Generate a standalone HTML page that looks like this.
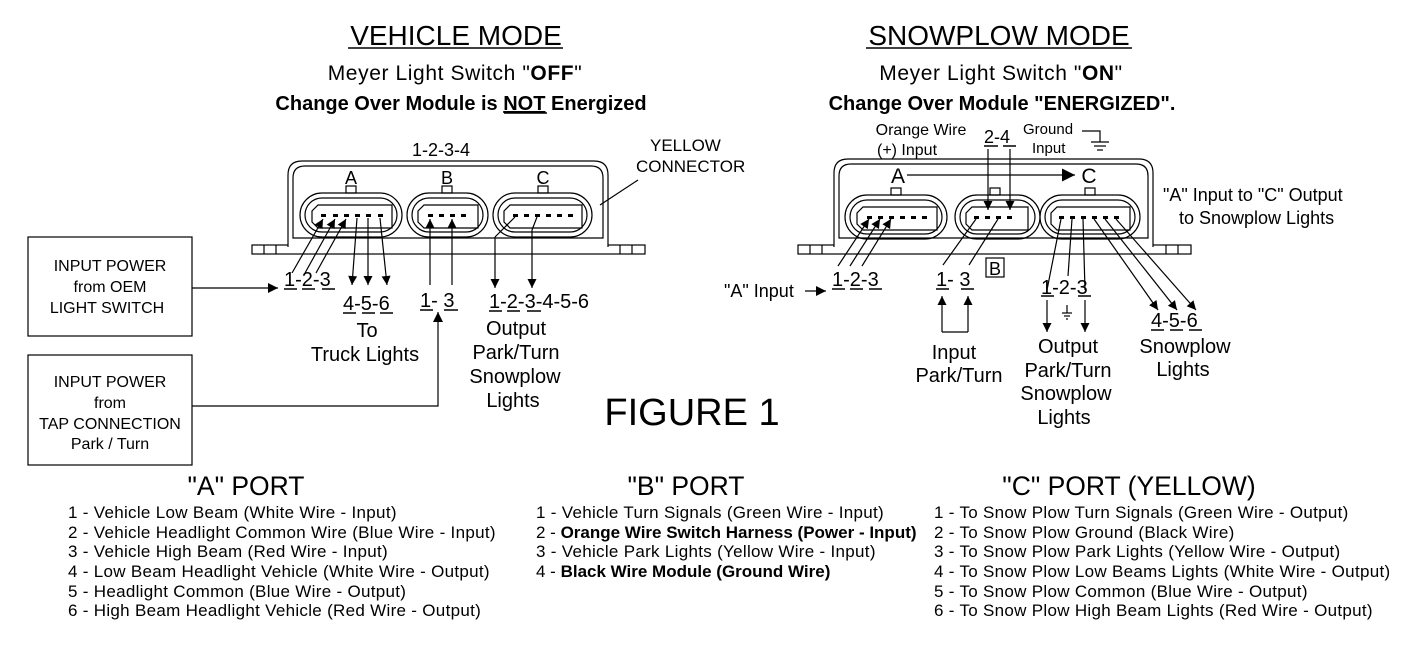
<!DOCTYPE html>
<html><head><meta charset="utf-8"><style>
html,body{margin:0;padding:0;background:#fff}
svg{display:block}
text{font-family:"Liberation Sans",Arial,sans-serif;fill:#000}
</style></head><body>
<svg width="1423" height="645" viewBox="0 0 1423 645" xmlns="http://www.w3.org/2000/svg">
<defs>
<marker id="ar" viewBox="0 0 10 10" refX="10" refY="5" markerWidth="15" markerHeight="9" orient="auto" markerUnits="userSpaceOnUse"><path d="M0,0 L10,5 L0,10 z" fill="#000"/></marker>
<marker id="arl" viewBox="0 0 10 10" refX="10" refY="5" markerWidth="18" markerHeight="10" orient="auto" markerUnits="userSpaceOnUse"><path d="M0,0 L10,5 L0,10 z" fill="#000"/></marker>
<marker id="ab" viewBox="0 0 10 10" refX="10" refY="5" markerWidth="24" markerHeight="13" orient="auto" markerUnits="userSpaceOnUse"><path d="M0,0 L10,5 L0,10 z" fill="#000"/></marker>
</defs>
<g fill="none" stroke="#000" stroke-width="1.2">
<rect x="252" y="245" width="393" height="9"/>
<line x1="264" y1="245" x2="264" y2="254"/><line x1="276" y1="245" x2="276" y2="254"/>
<line x1="620" y1="245" x2="620" y2="254"/><line x1="632" y1="245" x2="632" y2="254"/>
<path d="M288,247 V175 Q288,161 302,161 H594 Q608,161 608,175 V247" fill="#fff"/>
<path d="M293,238 V178 Q293,166 305,166 H591 Q603,166 603,178 V238 Z"/>
<rect x="300" y="193" width="102" height="44" rx="22"/><rect x="305" y="198" width="92" height="34" rx="17"/>
<path d="M318,205 H392 V228 H318 L312,222 V211 Z"/>
<rect x="346" y="186" width="10" height="7"/>
<rect x="407" y="193" width="81" height="44" rx="22"/><rect x="412" y="198" width="71" height="34" rx="17"/>
<path d="M424,205 H478 V228 H424 L418,222 V211 Z"/><rect x="442" y="186" width="10" height="7"/>
<rect x="493" y="193" width="99" height="44" rx="22"/><rect x="498" y="198" width="89" height="34" rx="17"/>
<path d="M510,205 H582 V228 H510 L504,222 V211 Z"/><rect x="538" y="186" width="10" height="7"/>
<rect x="798" y="245" width="393" height="9"/>
<line x1="810" y1="245" x2="810" y2="254"/><line x1="822" y1="245" x2="822" y2="254"/>
<line x1="1166" y1="245" x2="1166" y2="254"/><line x1="1178" y1="245" x2="1178" y2="254"/>
<path d="M834,247 V173 Q834,159 848,159 H1139 Q1153,159 1153,173 V247" fill="#fff"/>
<path d="M839,238 V176 Q839,164 851,164 H1136 Q1148,164 1148,176 V238 Z"/>
<rect x="845" y="195" width="102" height="44" rx="22"/><rect x="850" y="200" width="92" height="34" rx="17"/>
<path d="M863,207 H937 V230 H863 L857,224 V213 Z"/><rect x="891" y="188" width="10" height="7"/>
<rect x="955" y="195" width="85" height="44" rx="22"/><rect x="960" y="200" width="75" height="34" rx="17"/>
<path d="M972,207 H1028 V230 H972 L966,224 V213 Z"/><rect x="990" y="188" width="10" height="7"/>
<rect x="1040" y="195" width="100" height="44" rx="22"/><rect x="1045" y="200" width="90" height="34" rx="17"/>
<path d="M1057,207 H1130 V230 H1057 L1051,224 V213 Z"/><rect x="1085" y="188" width="10" height="7"/>
</g>
<g fill="#000">
<rect x="321" y="214" width="5" height="3"/><rect x="333" y="214" width="5" height="3"/><rect x="344" y="214" width="5" height="3"/><rect x="355" y="214" width="5" height="3"/><rect x="366" y="214" width="5" height="3"/><rect x="378" y="214" width="5" height="3"/>
<rect x="428" y="214" width="5" height="3"/><rect x="439" y="214" width="5" height="3"/><rect x="450" y="214" width="5" height="3"/><rect x="461" y="214" width="5" height="3"/>
<rect x="513" y="214" width="5" height="3"/><rect x="524" y="214" width="5" height="3"/><rect x="535" y="214" width="5" height="3"/><rect x="546" y="214" width="5" height="3"/><rect x="557" y="214" width="5" height="3"/><rect x="568" y="214" width="5" height="3"/>
<rect x="867" y="216" width="5" height="3"/><rect x="878" y="216" width="5" height="3"/><rect x="889" y="216" width="5" height="3"/><rect x="900" y="216" width="5" height="3"/><rect x="911" y="216" width="5" height="3"/><rect x="922" y="216" width="5" height="3"/>
<rect x="974" y="216" width="5" height="3"/><rect x="985" y="216" width="5" height="3"/><rect x="996" y="216" width="5" height="3"/><rect x="1007" y="216" width="5" height="3"/>
<rect x="1059" y="216" width="5" height="3"/><rect x="1070" y="216" width="5" height="3"/><rect x="1081" y="216" width="5" height="3"/><rect x="1092" y="216" width="5" height="3"/><rect x="1103" y="216" width="5" height="3"/><rect x="1114" y="216" width="5" height="3"/>
</g>
<g fill="none" stroke="#000" stroke-width="1.2">
<line x1="292" y1="273" x2="323" y2="219" marker-end="url(#ar)"/>
<line x1="305" y1="273" x2="335" y2="219" marker-end="url(#ar)"/>
<line x1="316" y1="273" x2="346" y2="219" marker-end="url(#ar)"/>
<line x1="357" y1="218" x2="352" y2="285" marker-end="url(#ar)"/>
<line x1="368" y1="218" x2="368" y2="285" marker-end="url(#ar)"/>
<line x1="380" y1="218" x2="387" y2="285" marker-end="url(#ar)"/>
<line x1="430" y1="285" x2="430" y2="219" marker-end="url(#ar)"/>
<line x1="452" y1="285" x2="452" y2="219" marker-end="url(#ar)"/>
<line x1="515" y1="217" x2="495" y2="237"/><line x1="495" y1="237" x2="495" y2="288" marker-end="url(#ar)"/>
<line x1="537" y1="217" x2="532" y2="230"/><line x1="532" y1="230" x2="532" y2="288" marker-end="url(#ar)"/>
<line x1="600" y1="205" x2="638" y2="180"/>
<rect x="28" y="237" width="164" height="99"/>
<rect x="28" y="355" width="164" height="110"/>
<line x1="192" y1="288" x2="278" y2="288" marker-end="url(#arl)"/>
<path d="M192,406 H438 V312" marker-end="url(#arl)"/>
<line x1="805" y1="291" x2="826" y2="291" marker-end="url(#arl)"/>
<line x1="838" y1="266" x2="869" y2="219" marker-end="url(#ar)"/>
<line x1="850" y1="266" x2="880" y2="219" marker-end="url(#ar)"/>
<line x1="862" y1="266" x2="891" y2="219" marker-end="url(#ar)"/>
<line x1="907" y1="175" x2="1075" y2="175" marker-end="url(#ab)"/>
<line x1="988" y1="149" x2="988" y2="210" marker-end="url(#ar)"/>
<line x1="1010" y1="149" x2="1010" y2="210" marker-end="url(#ar)"/>
<path d="M1082,131 H1100 V142"/><line x1="1091" y1="142" x2="1109" y2="142"/><line x1="1094" y1="146" x2="1106" y2="146"/><line x1="1097" y1="150" x2="1103" y2="150"/>
<line x1="976" y1="219" x2="943" y2="265"/>
<line x1="998" y1="219" x2="969" y2="265"/>
<line x1="942" y1="332" x2="942" y2="296" marker-end="url(#ar)"/>
<line x1="968" y1="332" x2="968" y2="296" marker-end="url(#ar)"/>
<line x1="942" y1="332" x2="968" y2="332"/>
<line x1="1061" y1="219" x2="1047" y2="290"/><line x1="1047" y1="300" x2="1047" y2="332" marker-end="url(#ar)"/>
<line x1="1072" y1="219" x2="1068" y2="276"/>
<line x1="1083" y1="219" x2="1085" y2="290"/><line x1="1085" y1="300" x2="1085" y2="332" marker-end="url(#ar)"/>
<line x1="1067" y1="305" x2="1067" y2="313"/><line x1="1062" y1="313" x2="1072" y2="313"/><line x1="1064" y1="316" x2="1070" y2="316"/><line x1="1066" y1="319" x2="1068" y2="319"/>
<line x1="1094" y1="219" x2="1158" y2="310" marker-end="url(#ar)"/>
<line x1="1105" y1="219" x2="1177" y2="310" marker-end="url(#ar)"/>
<line x1="1116" y1="219" x2="1196" y2="310" marker-end="url(#ar)"/>
<rect x="986" y="258" width="18" height="19"/>
<g stroke-width="1.5">
<line x1="348" y1="48" x2="563" y2="48"/><line x1="866" y1="48" x2="1132" y2="48"/>
<line x1="284" y1="289" x2="297" y2="289"/><line x1="302" y1="289" x2="315" y2="289"/><line x1="322" y1="289" x2="335" y2="289"/>
<line x1="343" y1="313" x2="356" y2="313"/><line x1="362" y1="313" x2="375" y2="313"/><line x1="380" y1="313" x2="393" y2="313"/>
<line x1="420" y1="310" x2="433" y2="310"/><line x1="444" y1="310" x2="458" y2="310"/>
<line x1="489" y1="311" x2="502" y2="311"/><line x1="507" y1="311" x2="520" y2="311"/><line x1="527" y1="311" x2="541" y2="311"/>
<line x1="832" y1="289" x2="845" y2="289"/><line x1="850" y1="289" x2="863" y2="289"/><line x1="869" y1="289" x2="882" y2="289"/>
<line x1="936" y1="289" x2="949" y2="289"/><line x1="961" y1="289" x2="974" y2="289"/>
<line x1="984" y1="146" x2="998" y2="146"/><line x1="1003" y1="146" x2="1016" y2="146"/>
<line x1="1041" y1="296" x2="1054" y2="296"/><line x1="1078" y1="296" x2="1091" y2="296"/>
<line x1="1151" y1="330" x2="1164" y2="330"/><line x1="1170" y1="330" x2="1183" y2="330"/><line x1="1189" y1="330" x2="1202" y2="330"/>
</g>
</g>
<text x="456" y="45" font-size="28" text-anchor="middle">VEHICLE MODE</text>
<text x="999" y="45" font-size="28" text-anchor="middle">SNOWPLOW MODE</text>
<text x="455" y="80" font-size="21" letter-spacing="0.6" text-anchor="middle">Meyer Light Switch "<tspan font-weight="bold">OFF</tspan>"</text>
<text x="461" y="110" font-size="20" font-weight="bold" text-anchor="middle">Change Over Module is <tspan text-decoration="underline">NOT</tspan> Energized</text>
<line x1="504" y1="113" x2="547" y2="113" stroke="#000" stroke-width="1.5"/>
<text x="1001" y="80" font-size="21" letter-spacing="0.6" text-anchor="middle">Meyer Light Switch "<tspan font-weight="bold">ON</tspan>"</text>
<text x="1002" y="110" font-size="20" font-weight="bold" text-anchor="middle">Change Over Module "ENERGIZED".</text>
<text x="412" y="156" font-size="18">1-2-3-4</text>
<text x="650" y="151" font-size="17">YELLOW</text>
<text x="636" y="172" font-size="17">CONNECTOR</text>
<text x="351" y="184" font-size="18" text-anchor="middle">A</text>
<text x="447" y="184" font-size="18" text-anchor="middle">B</text>
<text x="543" y="184" font-size="18" text-anchor="middle">C</text>
<text x="110" y="271" font-size="16" text-anchor="middle">INPUT POWER</text>
<text x="110" y="292" font-size="16" text-anchor="middle">from OEM</text>
<text x="107" y="313" font-size="16" text-anchor="middle">LIGHT SWITCH</text>
<text x="110" y="387" font-size="16" text-anchor="middle">INPUT POWER</text>
<text x="110" y="408" font-size="16" text-anchor="middle">from</text>
<text x="110" y="429" font-size="16" text-anchor="middle">TAP CONNECTION</text>
<text x="110" y="449" font-size="16" text-anchor="middle">Park / Turn</text>
<text x="284" y="286" font-size="20">1-2-3</text>
<text x="343" y="310" font-size="20">4-5-6</text>
<text x="367" y="337" font-size="20" text-anchor="middle">To</text>
<text x="365" y="361" font-size="20" text-anchor="middle">Truck Lights</text>
<text x="420" y="307" font-size="20">1- 3</text>
<text x="489" y="308" font-size="20">1-2-3-4-5-6</text>
<text x="516" y="335" font-size="20" text-anchor="middle">Output</text>
<text x="516" y="359" font-size="20" text-anchor="middle">Park/Turn</text>
<text x="515" y="383" font-size="20" text-anchor="middle">Snowplow</text>
<text x="513" y="407" font-size="20" text-anchor="middle">Lights</text>
<text x="692" y="425" font-size="38" text-anchor="middle">FIGURE 1</text>
<text x="921" y="135" font-size="16" text-anchor="middle">Orange Wire</text>
<text x="907" y="155" font-size="16" text-anchor="middle">(+) Input</text>
<text x="984" y="143" font-size="18">2-4</text>
<text x="1023" y="134" font-size="15">Ground</text>
<text x="1032" y="153" font-size="15">Input</text>
<text x="898" y="183" font-size="21" text-anchor="middle">A</text>
<text x="1089" y="183" font-size="21" text-anchor="middle">C</text>
<text x="1163" y="201" font-size="18">"A" Input to "C" Output</text>
<text x="1179" y="224" font-size="18">to Snowplow Lights</text>
<text x="724" y="297" font-size="18">"A" Input</text>
<text x="832" y="286" font-size="20">1-2-3</text>
<text x="936" y="286" font-size="20">1- 3</text>
<text x="989" y="275" font-size="18">B</text>
<text x="1041" y="294" font-size="20">1-2-3</text>
<text x="954" y="359" font-size="20" text-anchor="middle">Input</text>
<text x="959" y="382" font-size="20" text-anchor="middle">Park/Turn</text>
<text x="1068" y="353" font-size="20" text-anchor="middle">Output</text>
<text x="1068" y="377" font-size="20" text-anchor="middle">Park/Turn</text>
<text x="1066" y="400" font-size="20" text-anchor="middle">Snowplow</text>
<text x="1064" y="424" font-size="20" text-anchor="middle">Lights</text>
<text x="1151" y="327" font-size="20">4-5-6</text>
<text x="1185" y="353" font-size="20" text-anchor="middle">Snowplow</text>
<text x="1183" y="376" font-size="20" text-anchor="middle">Lights</text>
<text x="246" y="495" font-size="26.5" text-anchor="middle">"A" PORT</text>
<text x="686" y="495" font-size="26.5" text-anchor="middle">"B" PORT</text>
<text x="1129" y="495" font-size="26.5" text-anchor="middle">"C" PORT (YELLOW)</text>
<g font-size="17" letter-spacing="0.3">
<text x="68" y="518">1 - Vehicle Low Beam (White Wire - Input)</text>
<text x="68" y="538">2 - Vehicle Headlight Common Wire (Blue Wire - Input)</text>
<text x="68" y="557">3 - Vehicle High Beam (Red Wire - Input)</text>
<text x="68" y="577">4 - Low Beam Headlight Vehicle (White Wire - Output)</text>
<text x="68" y="597">5 - Headlight Common (Blue Wire - Output)</text>
<text x="68" y="616">6 - High Beam Headlight Vehicle (Red Wire - Output)</text>
<text x="536" y="518">1 - Vehicle Turn Signals (Green Wire - Input)</text>
<text x="536" y="538" letter-spacing="0">2 - <tspan font-weight="bold">Orange Wire Switch Harness (Power - Input)</tspan></text>
<text x="536" y="557">3 - Vehicle Park Lights (Yellow Wire - Input)</text>
<text x="536" y="577" letter-spacing="0">4 - <tspan font-weight="bold">Black Wire Module (Ground Wire)</tspan></text>
<text x="934" y="518">1 - To Snow Plow Turn Signals (Green Wire - Output)</text>
<text x="934" y="538">2 - To Snow Plow Ground (Black Wire)</text>
<text x="934" y="557">3 - To Snow Plow Park Lights (Yellow Wire - Output)</text>
<text x="934" y="577">4 - To Snow Plow Low Beams Lights (White Wire - Output)</text>
<text x="934" y="597">5 - To Snow Plow Common (Blue Wire - Output)</text>
<text x="934" y="616">6 - To Snow Plow High Beam Lights (Red Wire - Output)</text>
</g>
</svg>
</body></html>
